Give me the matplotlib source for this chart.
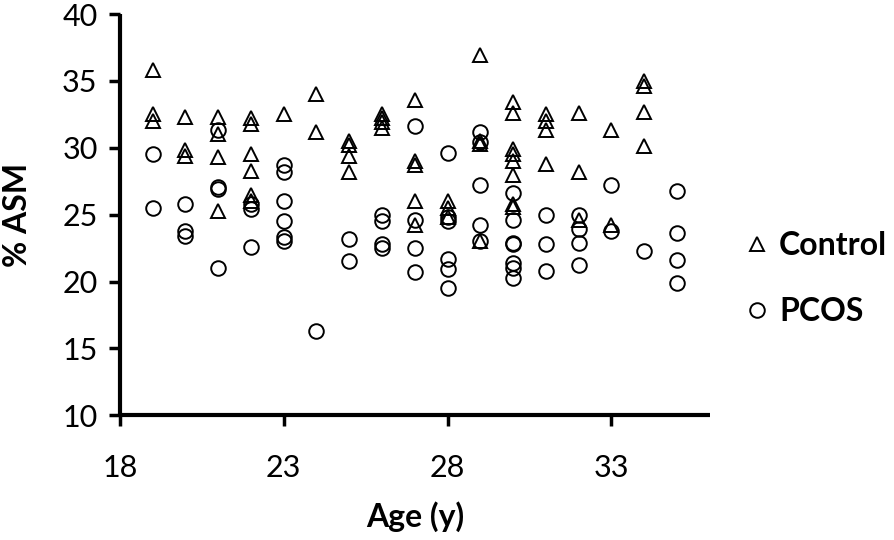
import matplotlib
matplotlib.use("Agg")
import matplotlib.pyplot as plt

# ---- data ----
control_age = [19, 19, 19,
               20, 20, 20,
               21, 21, 21, 21,
               22, 22, 22, 22, 22, 22,
               23,
               24, 24,
               25, 25, 25, 25,
               26, 26, 26, 26,
               27, 27, 27, 27, 27,
               28, 28, 28,
               29, 29, 29, 29,
               30, 30, 30, 30, 30, 30, 30, 30,
               31, 31, 31, 31,
               32, 32, 32,
               33, 33,
               34, 34, 34, 34]
control_asm = [35.8, 32.5, 32.0,
               32.3, 29.8, 29.4,
               32.3, 31.0, 29.3, 25.3,
               32.2, 31.8, 29.5, 28.3, 26.5, 26.0,
               32.5,
               34.0, 31.2,
               30.5, 30.2, 29.4, 28.2,
               32.5, 32.2, 31.9, 31.5,
               33.6, 29.0, 28.7, 26.0, 24.2,
               26.0, 25.5, 24.8,
               36.9, 30.5, 30.3, 23.0,
               33.4, 32.6, 29.9, 29.5, 29.0, 28.0, 25.8, 25.6,
               32.5, 32.0, 31.3, 28.8,
               32.6, 28.2, 24.6,
               31.3, 24.2,
               35.0, 34.6, 32.7, 30.1]

pcos_age = [19, 19,
            20, 20, 20,
            21, 21, 21, 21,
            22, 22, 22,
            23, 23, 23, 23, 23, 23,
            24,
            25, 25,
            26, 26, 26, 26,
            27, 27, 27, 27,
            28, 28, 28, 28, 28, 28,
            29, 29, 29, 29, 29,
            30, 30, 30, 30, 30, 30, 30,
            31, 31, 31,
            32, 32, 32, 32,
            33, 33,
            34,
            35, 35, 35, 35]
pcos_asm = [29.5, 25.5,
            25.8, 23.8, 23.4,
            31.3, 27.1, 26.9, 21.0,
            25.8, 25.4, 22.6,
            28.7, 28.2, 26.0, 24.5, 23.3, 23.0,
            16.3,
            23.2, 21.5,
            25.0, 24.5, 22.8, 22.5,
            31.6, 24.6, 22.5, 20.7,
            29.6, 24.8, 24.5, 21.7, 20.9, 19.5,
            31.2, 30.4, 27.2, 24.2, 23.0,
            26.6, 24.6, 22.9, 22.8, 21.4, 21.0, 20.3,
            25.0, 22.8, 20.8,
            25.0, 23.9, 22.9, 21.2,
            27.2, 23.8,
            22.3,
            26.8, 23.6, 21.6, 19.9]

x_ticks = [18, 23, 28, 33]
y_ticks = [10, 15, 20, 25, 30, 35, 40]


def main():
    plt.rcParams['font.family'] = ['Lato', 'DejaVu Sans']
    fig = plt.figure(figsize=(8.94, 5.4), dpi=100)
    ax = fig.add_axes([0.134, 0.231, 0.66, 0.743])

    ax.plot(control_age, control_asm, linestyle='none', marker='^',
            markersize=10.5, markerfacecolor='none', markeredgecolor='black',
            markeredgewidth=1.4, label='Control')
    ax.plot(pcos_age, pcos_asm, linestyle='none', marker='o',
            markersize=10.5, markerfacecolor='none', markeredgecolor='black',
            markeredgewidth=1.4, label='PCOS')

    ax.set_xlim(18, 36)
    ax.set_ylim(10, 40)
    ax.set_xticks(x_ticks)
    ax.set_yticks(y_ticks)
    ax.tick_params(axis='both', labelsize=22, width=2.5, length=8,
                   direction='out')
    ax.tick_params(axis='x', pad=20)
    ax.tick_params(axis='y', pad=8)

    for side in ['top', 'right']:
        ax.spines[side].set_visible(False)
    for side in ['left', 'bottom']:
        ax.spines[side].set_linewidth(3)
        ax.spines[side].set_capstyle('butt')

    ax.set_xlabel('Age (y)', fontsize=23, fontweight='bold', labelpad=14)
    ax.set_ylabel('% ASM', fontsize=23, fontweight='bold', labelpad=22)

    ax.legend(loc='center left', bbox_to_anchor=(1.055, 0.341),
              borderaxespad=0, borderpad=0, frameon=False,
              prop={'size': 23, 'weight': 'bold'}, handletextpad=0.25,
              labelspacing=1.15, handlelength=0.9)

    fig.savefig('out.png', dpi=100)


if __name__ == '__main__':
    main()
